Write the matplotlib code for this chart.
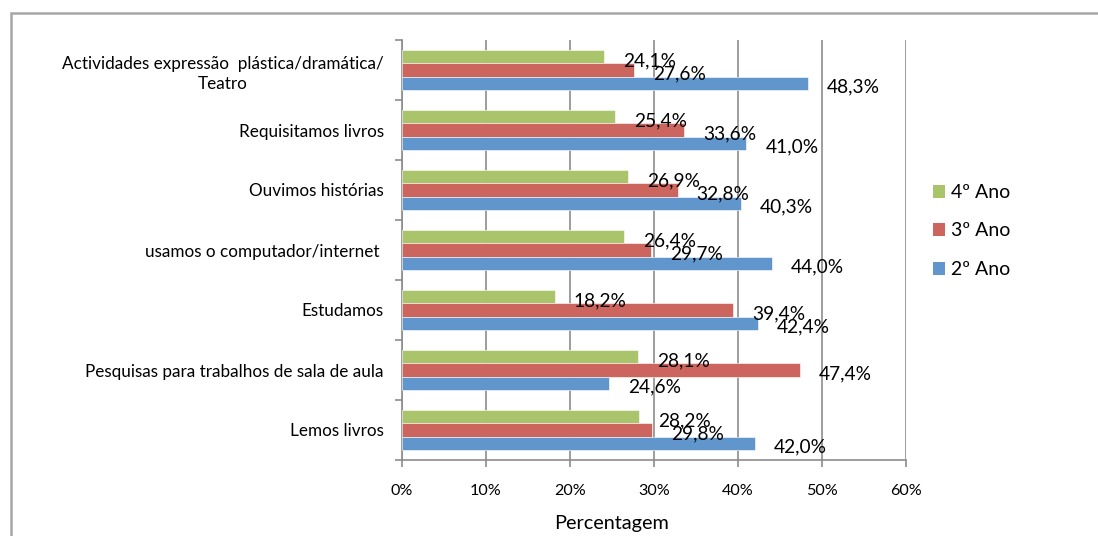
import matplotlib.pyplot as plt
from matplotlib.patches import Rectangle, Patch
import numpy as np

plt.rcParams['font.family'] = ['Lato', 'DejaVu Sans']

# Data (top to bottom, as in the chart)
categories = ['Actividades expressão  plástica/dramática/\nTeatro',
              'Requisitamos livros',
              'Ouvimos histórias',
              'usamos o computador/internet ',
              'Estudamos',
              'Pesquisas para trabalhos de sala de aula',
              'Lemos livros']
ano4 = [24.1, 25.4, 26.9, 26.4, 18.2, 28.1, 28.2]
ano3 = [27.6, 33.6, 32.8, 29.7, 39.4, 47.4, 29.8]
ano2 = [48.3, 41.0, 40.3, 44.0, 42.4, 24.6, 42.0]
series_names = ['4º Ano', '3º Ano', '2º Ano']
colors = ['#A9C46B', '#CD655F', '#6096CC']
xticks = [0, 10, 20, 30, 40, 50, 60]

W, H = 1098, 536
fig = plt.figure(figsize=(W / 100, H / 100), dpi=100)

# outer chart border (partly cut off)
fig.patches.append(Rectangle((11 / W, -0.1), 1.5, 1 - 13 / H + 0.1,
                             transform=fig.transFigure, fill=False,
                             edgecolor='#A6A6A6', linewidth=1.8))

ax = fig.add_axes([402 / W, 1 - 460 / H, 504 / W, 420 / H])

n = len(categories)
y = np.arange(n)[::-1]
h = 0.217
offs = [h, 0, -h]
all_series = [ano4, ano3, ano2]
for vals, off, c in zip(all_series, offs, colors):
    bars = ax.barh(y + off, vals, height=h, color=c, edgecolor='white', linewidth=0.4, zorder=3)
    for b, v in zip(bars, vals):
        ax.annotate(f'{v:.1f}%'.replace('.', ','),
                    (b.get_width(), b.get_y() + b.get_height() / 2),
                    xytext=(19, -4), textcoords='offset pixels',
                    ha='left', va='center', fontsize=13.8, color='black', zorder=5)

ax.set_xlim(0, 60)
ax.set_ylim(-0.5, n - 0.5)
ax.set_xticks(xticks)
ax.set_xticklabels([f'{t}%' for t in xticks], fontsize=11.6)
ax.grid(axis='x', color='#8C8C8C', linewidth=1.2, zorder=0)

ax.set_yticks(y)
ax.set_yticklabels(categories, fontsize=12.3, multialignment='center', linespacing=1.35)
ax.set_yticks(np.arange(n + 1) - 0.5, minor=True)
ax.tick_params(axis='y', which='major', length=0, pad=13)
ax.tick_params(axis='y', which='minor', length=5, color='#8C8C8C', width=1.2)
ax.tick_params(axis='x', length=5, color='#8C8C8C', width=1.2, pad=12)

for s in ['top', 'right']:
    ax.spines[s].set_visible(False)
for s in ['left', 'bottom']:
    ax.spines[s].set_color('#8C8C8C')
    ax.spines[s].set_linewidth(1.2)

fig.text(612 / W, 1 - 523 / H, 'Percentagem', ha='center', va='center', fontsize=14.3)

handles = [Patch(facecolor=c, edgecolor='none') for c in colors]
fig.legend(handles, series_names, loc='center left', bbox_to_anchor=(915 / W, 1 - 231 / H),
           frameon=False, fontsize=14, handlelength=0.65, handleheight=0.65,
           handletextpad=0.3, labelspacing=1.1)

fig.savefig('out.png', dpi=100)
